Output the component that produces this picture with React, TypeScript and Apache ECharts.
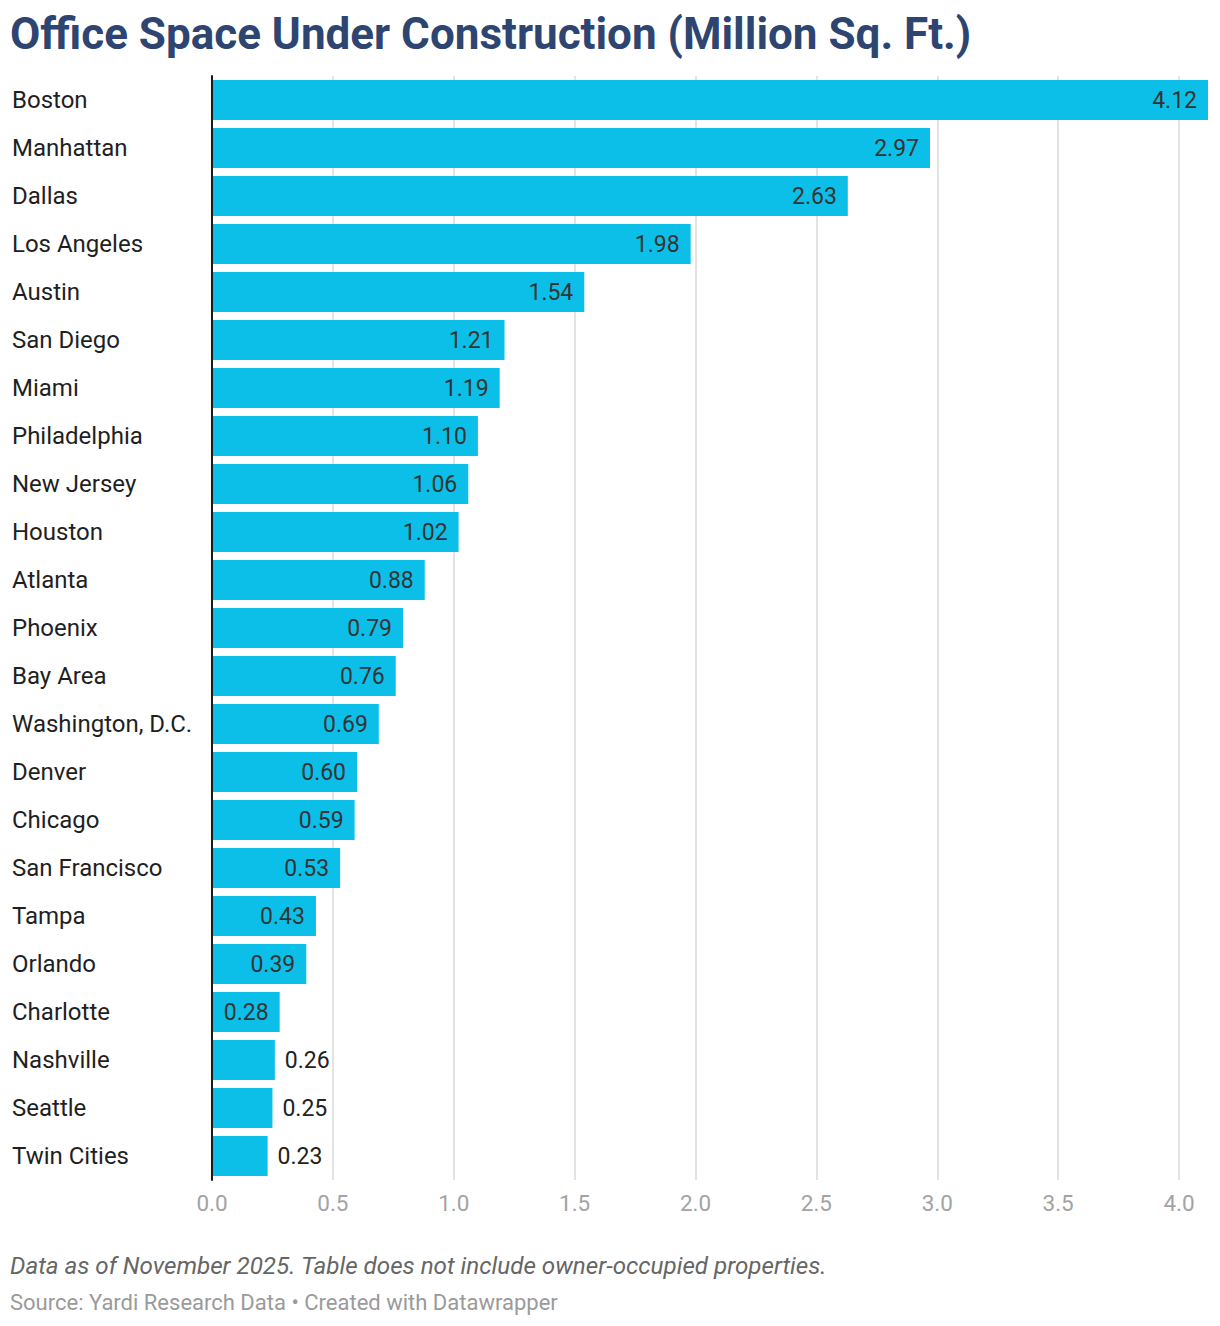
import React, { useEffect, useRef } from "react";
import * as echarts from "echarts";

const categories = [
  "Boston", "Manhattan", "Dallas", "Los Angeles", "Austin", "San Diego", "Miami",
  "Philadelphia", "New Jersey", "Houston", "Atlanta", "Phoenix", "Bay Area",
  "Washington, D.C.", "Denver", "Chicago", "San Francisco", "Tampa", "Orlando",
  "Charlotte", "Nashville", "Seattle", "Twin Cities",
];
const values = [
  4.12, 2.97, 2.63, 1.98, 1.54, 1.21, 1.19, 1.1, 1.06, 1.02, 0.88, 0.79, 0.76,
  0.69, 0.6, 0.59, 0.53, 0.43, 0.39, 0.28, 0.26, 0.25, 0.23,
];
const titleText = "Office Space Under Construction (Million Sq. Ft.)";
const noteText = "Data as of November 2025. Table does not include owner-occupied properties.";
const sourceText = "Source: Yardi Research Data • Created with Datawrapper";

const FONT = "Roboto";

export default function App() {
  const ref = useRef<HTMLDivElement>(null);
  useEffect(() => {
    if (!ref.current) return;
    const chart = echarts.init(ref.current, undefined, { renderer: "svg" });
    const data = values.map((v) => {
      const outside = v < 0.27;
      return {
        value: v,
        label: outside
          ? { position: "right", distance: 10, color: "#222" }
          : { position: "insideRight", distance: 11, color: "#333" },
      };
    });
    chart.setOption({
      animation: false,
      grid: { left: 212, right: 41, top: 76, bottom: 146, containLabel: false },
      xAxis: {
        type: "value",
        min: 0,
        max: 4,
        interval: 0.5,
        axisLine: { show: false },
        axisTick: { show: false },
        axisLabel: {
          color: "#a3a3a3",
          fontFamily: FONT,
          fontSize: 22.5,
          margin: 11,
          formatter: (v: number) => v.toFixed(1),
        },
        splitLine: { show: true, lineStyle: { color: "#e3e3e3", width: 2 } },
      },
      yAxis: {
        type: "category",
        data: categories,
        inverse: true,
        axisLine: { show: true, lineStyle: { color: "#1a1a1a", width: 2 } },
        axisTick: { show: false },
        splitLine: { show: false },
        axisLabel: {
          align: "left",
          margin: 200,
          color: "#1f1f1f",
          fontFamily: FONT,
          fontSize: 24,
        },
        z: 5,
      },
      series: [
        {
          type: "bar",
          data,
          clip: false,
          barCategoryGap: "16.7%",
          itemStyle: { color: "#0cbfe9" },
          label: {
            show: true,
            fontFamily: FONT,
            fontSize: 23,
            formatter: (p: any) => Number(p.value).toFixed(2),
          },
        },
      ],
      graphic: [
        {
          type: "text",
          left: 10,
          top: 12,
          style: {
            text: titleText,
            fontFamily: FONT,
            fontWeight: "bold",
            fontSize: 44,
            fill: "#2d4570",
          },
        },
        {
          type: "text",
          left: 10,
          top: 1254,
          style: {
            text: noteText,
            fontFamily: FONT,
            fontStyle: "italic",
            fontSize: 24.2,
            fill: "#666666",
          },
        },
        {
          type: "text",
          left: 10,
          top: 1291,
          style: {
            text: sourceText,
            fontFamily: FONT,
            fontSize: 22,
            fill: "#9a9a9a",
          },
        },
      ],
    });
    return () => chart.dispose();
  }, []);
  return (
    <div
      ref={ref}
      style={{ position: "absolute", left: 0, top: 0, width: 1220, height: 1326, background: "#fff" }}
    />
  );
}
